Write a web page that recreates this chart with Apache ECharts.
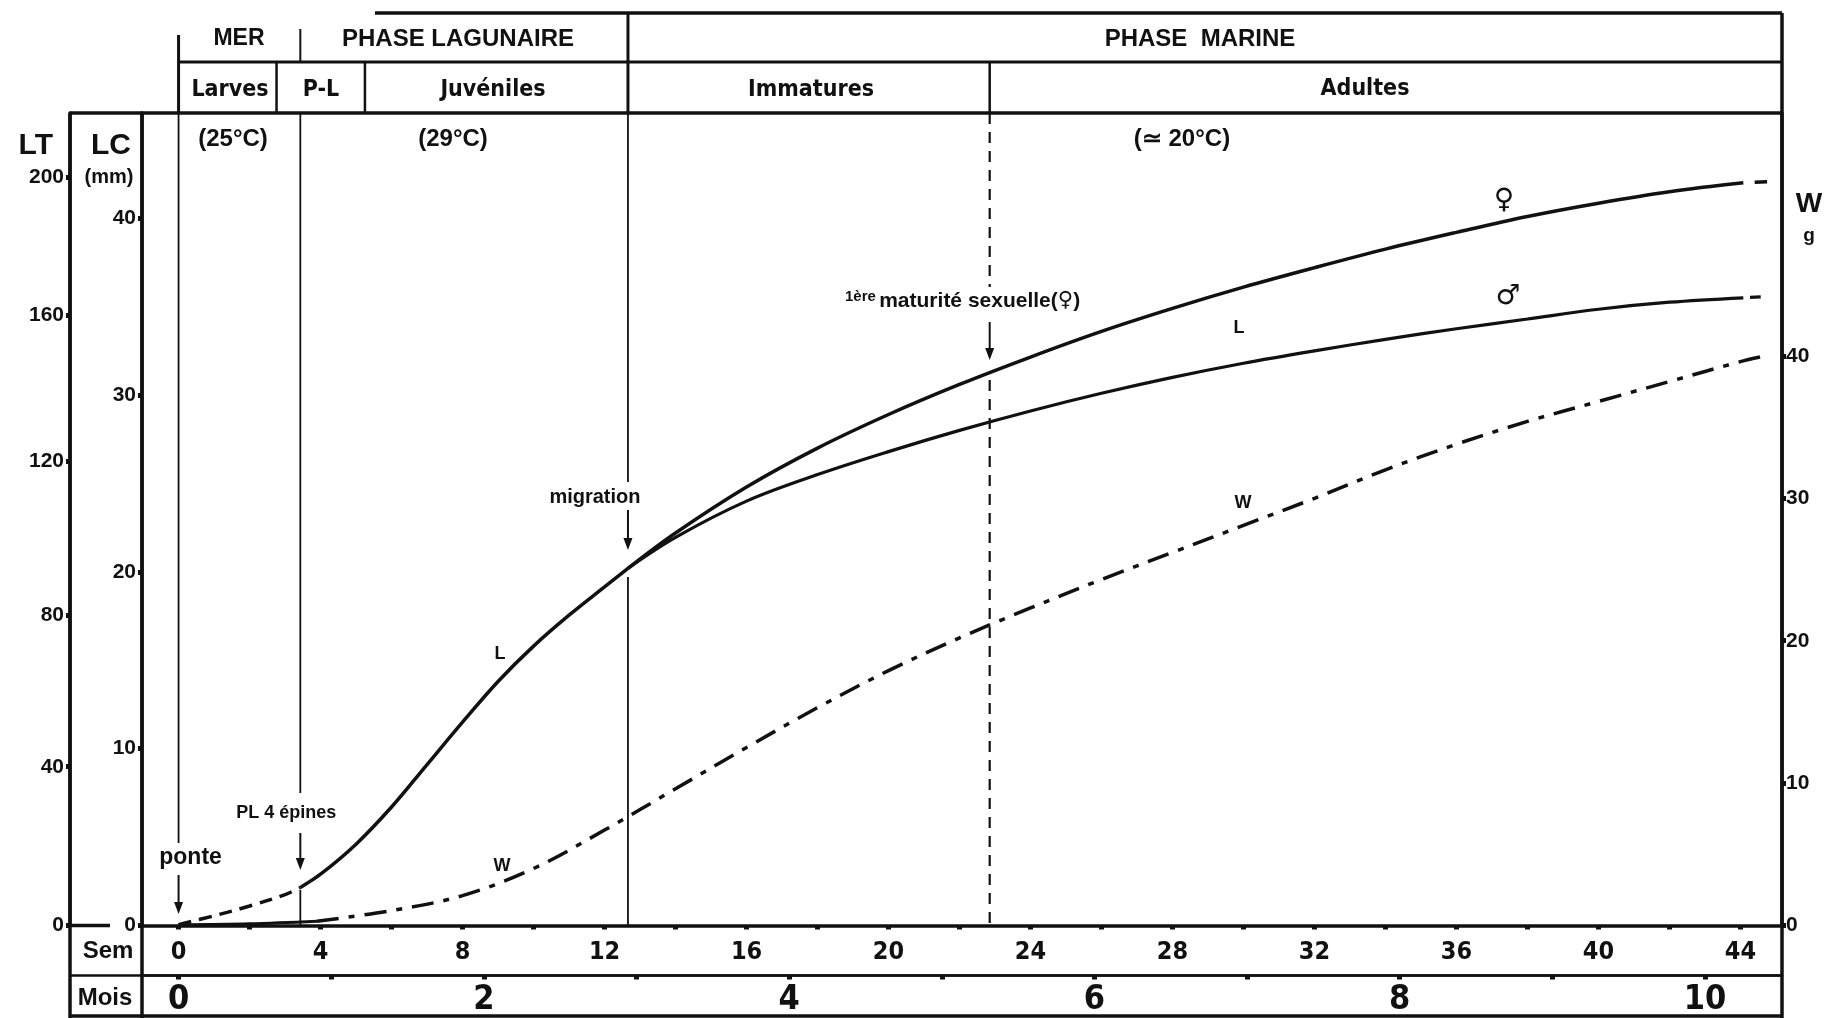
<!DOCTYPE html>
<html><head><meta charset="utf-8">
<script src="https://cdn.jsdelivr.net/npm/echarts@6/dist/echarts.min.js"></script>
<style>html,body{margin:0;padding:0;background:#fff}#c{width:1830px;height:1018px}</style>
</head><body><div id="c"></div>
<script>
// ---------- tick labels ----------
const semTicks = [0,2,4,6,8,10,12,14,16,18,20,22,24,26,28,30,32,34,36,38,40,42,44];
const semLabels = [0,4,8,12,16,20,24,28,32,36,40,44];
const moisTicks = [0,1,2,3,4,5,6,7,8,9,10];
const moisLabels = [0,2,4,6,8,10];
const lcTicks = [0,10,20,30,40];
const wTicks = [0,10,20,30,40];
const ltTicks = [0,40,80,120,160,200];
const ltAtLC = [0,8.98,17.56,26.27,34.52,42.31];   // LT graduations read on the LC scale
const weeksPerMonth = 4.3;

// ---------- stage boundaries (weeks) ----------
const wkPonte = 0, wkLarvesEnd = 2.76, wkPL = 3.43, wkPLEnd = 5.25, wkMigration = 12.66, wkMaturite = 22.85;

// ---------- series values ----------
const lEarlyWeeks = [0,1,2,3,3.43];
const lEarlyLC    = [0.05,0.55,1.1,1.75,2.15];
const lWeeks = [3.43,4,5,6,7,8,9,10,11,12,12.66];
const lLC    = [2.15,2.9,4.6,6.7,9.1,11.5,13.8,15.8,17.55,19.15,20.2];
const sexWeeks = [12.66,14,16,18,20,22,24,26,28,30,32,34,36,38,40,42,44.08];
const femLC  = [20.2,22.2,24.8,27.0,28.9,30.6,32.15,33.6,34.9,36.1,37.2,38.25,39.2,40.1,40.85,41.5,42.0];
const maleLC = [20.2,21.95,24.0,25.5,26.8,28.0,29.1,30.1,31.0,31.8,32.5,33.15,33.75,34.3,34.85,35.25,35.5];
const femTailWeeks = [44.4,44.75];  const femTailLC = [42.03,42.06];
const maleTailWeeks = [44.27,44.57]; const maleTailLC = [35.52,35.55];
const wEarlyWeeks = [0,2,3.9];
const wEarlyG = [0.05,0.12,0.3];
const wWeeks = [3.9,6,8,10,12,14,16,18,20,22,24,26,28,30,32,34,36,38,40,42,44,44.7];
const wG     = [0.3,1.05,2.1,4.0,6.7,9.6,12.5,15.3,17.9,20.2,22.3,24.3,26.2,28.1,30.0,32.0,33.8,35.4,36.8,38.2,39.6,40.0];

const zip = (a,b) => a.map((v,i) => [v,b[i]]);
const INK = '#111';
const F  = "'Liberation Sans', Arial, sans-serif";
const FN = "'Liberation Sans Narrow', 'DejaVu Sans Condensed', 'Liberation Sans', sans-serif";
const FS = "'DejaVu Sans', sans-serif";

const chart = echarts.init(document.getElementById('c'), null, {renderer:'canvas'});

function curve(name, data, yIdx, width, type, smooth) {
  return {name, type:'line', data, yAxisIndex:yIdx, showSymbol:false, symbol:'none', silent:true,
    smooth: smooth === undefined ? 0.35 : smooth, lineStyle:{color:INK, width, type}, z:5};
}
const tickStyle = {show:true, length:4, lineStyle:{color:INK, width:5}};

const option = {
  animation:false,
  backgroundColor:'#fff',
  grid:{left:142, right:48, top:113, bottom:92.5, containLabel:false, outerBoundsMode:'none'},
  xAxis:[
    {type:'value', min:-1.03, max:45.17, position:'bottom',
     axisLine:{show:true, onZero:false, lineStyle:{color:INK, width:3.5}},
     axisTick:Object.assign({customValues:semTicks}, tickStyle),
     axisLabel:{customValues:semLabels, margin:14, color:INK, fontSize:25, fontWeight:'bold', fontFamily:FN},
     splitLine:{show:false}},
    {type:'value', min:-1.03/weeksPerMonth, max:45.17/weeksPerMonth, position:'bottom', offset:50,
     axisLine:{show:true, onZero:false, lineStyle:{color:INK, width:2.5}},
     axisTick:Object.assign({customValues:moisTicks}, tickStyle),
     axisLabel:{customValues:moisLabels, margin:8, color:INK, fontSize:34, fontWeight:'bold', fontFamily:FN},
     splitLine:{show:false}}
  ],
  yAxis:[
    {type:'value', min:0, max:45.95, position:'left',
     axisLine:{show:true, onZero:false, lineStyle:{color:INK, width:3.5}},
     axisTick:Object.assign({customValues:lcTicks}, tickStyle),
     axisLabel:{customValues:lcTicks, margin:6, color:INK, fontSize:21, fontWeight:'bold', fontFamily:F},
     splitLine:{show:false}},
    {type:'value', min:0, max:45.95, position:'left', offset:72,
     axisLine:{show:true, onZero:false, lineStyle:{color:INK, width:3.5}},
     axisTick:Object.assign({customValues:ltAtLC}, tickStyle),
     axisLabel:{customValues:ltAtLC, margin:6, color:INK, fontSize:21, fontWeight:'bold', fontFamily:F,
       formatter:(v) => { let bi=0, bd=1e9; ltAtLC.forEach((p,i)=>{const d=Math.abs(p-v); if(d<bd){bd=d;bi=i;}}); return String(ltTicks[bi]); }},
     splitLine:{show:false}},
    {type:'value', min:0, max:57.06, position:'right',
     axisLine:{show:true, onZero:false, lineStyle:{color:INK, width:3.5}},
     axisTick:Object.assign({customValues:wTicks}, tickStyle),
     axisLabel:{customValues:wTicks, margin:4, color:INK, fontSize:21, fontWeight:'bold', fontFamily:F},
     splitLine:{show:false}}
  ],
  series:[
    curve('L précoce', zip(lEarlyWeeks,lEarlyLC), 0, 3.5, [13,8]),
    curve('L', zip(lWeeks,lLC), 0, 3.5, 'solid'),
    curve('♀', zip(sexWeeks,femLC), 0, 3.5, 'solid'),
    curve('♂', zip(sexWeeks,maleLC), 0, 3.2, 'solid'),
    curve('♀ ext', zip(femTailWeeks,femTailLC), 0, 3.5, 'solid', false),
    curve('♂ ext', zip(maleTailWeeks,maleTailLC), 0, 3.2, 'solid', false),
    curve('W précoce', zip(wEarlyWeeks,wEarlyG), 2, 3.2, 'solid'),
    curve('W', zip(wWeeks,wG), 2, 3.5, [22,10,6,10])
  ]
};
chart.setOption(option);

// ---------- frame, header table and annotations ----------
const px = w => chart.convertToPixel({xAxisIndex:0}, w);
const TOP = 13, ROW1 = 62, BOXTOP = 113, AXIS = 925.5, ROWSEM = 975.5, BOTTOM = 1016;
const xLT = 70, xLC = 142, xR = 1782;
const g = [];
function line(x1,y1,x2,y2,w,dash){ g.push({type:'line', silent:true, z:10, shape:{x1,y1,x2,y2},
  style:{stroke:INK, lineWidth:w||2, lineDash:dash||null}}); }
function arrow(x,y1,y2){ line(x,y1,x,y2-9,2);
  g.push({type:'polygon', silent:true, z:10, shape:{points:[[x-4.5,y2-12],[x+4.5,y2-12],[x,y2]]}, style:{fill:INK}}); }
function txt(text,x,y,size,opts){ opts=opts||{};
  g.push({type:'text', silent:true, z:11, x, y, style:Object.assign({text, fill:INK,
    font:(opts.weight||'bold')+' '+size+'px '+(opts.family||F), align:opts.align||'center', verticalAlign:'middle'}, opts.extra||{})}); }

// frame
line(xLT,BOXTOP,xLT,1018,3.5);
line(xLC,BOXTOP,xLC,1018,3.5);
line(xR,TOP,xR,1018,3.5);
line(xLT,BOXTOP,xR,BOXTOP,3.5);
line(xLT,ROWSEM,xR,ROWSEM,2.5);
line(xLT,BOTTOM,xR,BOTTOM,3.5);
line(xLT,AXIS,110,AXIS,3.5);

// header table
const x0 = px(wkPonte), xPL = px(wkPL), xMig = px(wkMigration), xMat = px(wkMaturite);
line(375,TOP,xR,TOP,3.5);
line(x0,ROW1,xR,ROW1,3);
line(x0,35,x0,BOXTOP,3);
line(xPL,29,xPL,ROW1,2);
line(xMig,TOP,xMig,BOXTOP,3);
line(px(wkLarvesEnd),ROW1,px(wkLarvesEnd),BOXTOP,2.5);
line(px(wkPLEnd),ROW1,px(wkPLEnd),BOXTOP,2.5);
line(xMat,ROW1,xMat,BOXTOP,2.5);
txt('MER',239,39,23);
txt('PHASE LAGUNAIRE',458,39,24);
txt('PHASE  MARINE',1200,39,24);
txt('Larves',230,90,23,{family:FN});
txt('P-L',321,90,23,{family:FN});
txt('Juvéniles',493,90,23,{family:FN});
txt('Immatures',811,90,23,{family:FN});
txt('Adultes',1365,89,23,{family:FN});

// temperatures
txt('(25°C)',233,139,24);
txt('(29°C)',453,139,24);
txt('(≃ 20°C)',1182,139,24);

// axis titles
txt('LT',53,146,30,{align:'right'});
txt('LC',111,146,30);
txt('(mm)',109,177,20);
txt('W',1809,204,28);
txt('g',1809,236,19);
txt('Sem',108,951,24);
txt('Mois',105,998,24);

// stage lines in the plot
line(x0,BOXTOP,x0,843,1.8);
txt('ponte',x0+12,858,23);
arrow(x0,875,914);

line(xPL,BOXTOP,xPL,793,1.8);
txt('PL 4 épines',xPL-14,813,18);
arrow(xPL,833,870);
line(xPL,890,xPL,AXIS,1.8);

line(xMig,BOXTOP,xMig,482,1.8);
txt('migration',xMig-33,497,20);
arrow(xMig,510,550);
line(xMig,577,xMig,AXIS,1.8);

line(xMat,BOXTOP,xMat,287,2.2,[11,8]);
g.push({type:'text', silent:true, z:11, x:845, y:301, style:{
  text:'{s|1ère} {m|maturité sexuelle(}{v|♀}{m|)}', fill:INK, align:'left', verticalAlign:'middle',
  rich:{s:{fontSize:15, fontWeight:'bold', fontFamily:F, verticalAlign:'top', fill:INK, padding:[0,0,8,0]},
        m:{fontSize:21, fontWeight:'bold', fontFamily:F, fill:INK},
        v:{fontSize:21, fontWeight:'bold', fontFamily:FS, fill:INK}}}});
arrow(xMat,322,360);
line(xMat,380,xMat,AXIS,2.2,[11,8]);

// curve labels
txt('L',500,654,18);
txt('L',1239,328,18);
txt('W',502,866,18);
txt('W',1243,503,18);
txt('♀',1504,201,28,{family:FS});
txt('♂',1508,297,28,{family:FS});

chart.setOption({graphic:{elements:g}});
</script>
</body></html>
